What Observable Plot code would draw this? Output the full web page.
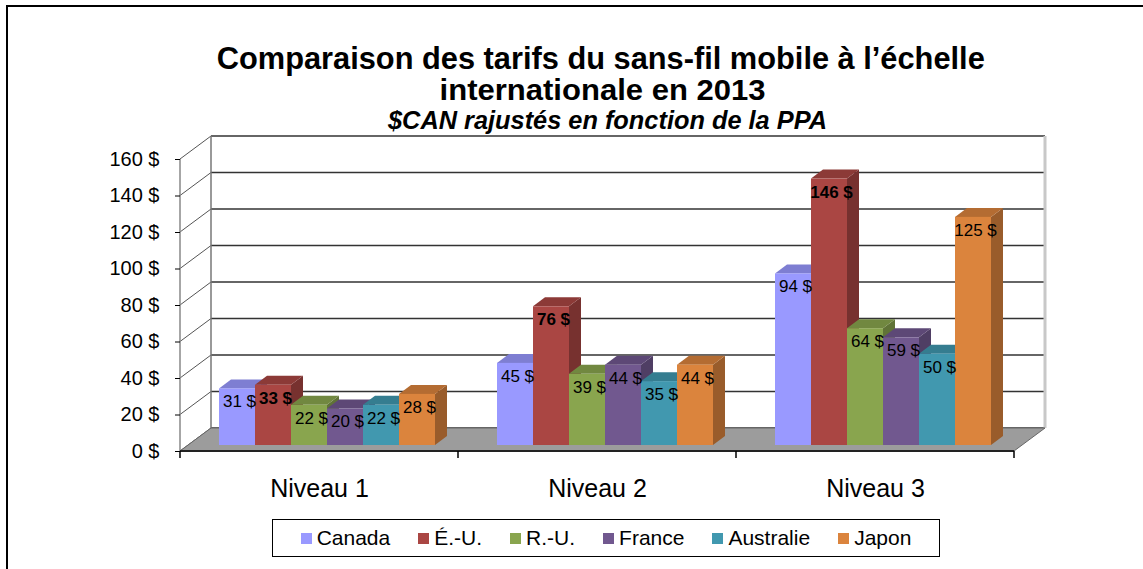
<!DOCTYPE html>
<html>
<head>
<meta charset="utf-8">
<script src="https://cdn.jsdelivr.net/npm/d3@7"></script>
<script src="https://cdn.jsdelivr.net/npm/@observablehq/plot@0.6"></script>
<style>
  body { margin: 0; background: #fff; font-family: "Liberation Sans", Arial, sans-serif; }
  #wrap { position: relative; width: 1143px; height: 569px; overflow: hidden; background: #fff; }
  #frame { position: absolute; left: 6px; top: 5px; width: 1300px; height: 700px; border-left: 2px solid #000; border-top: 2px solid #000; }
  .t { position: absolute; width: 1000px; text-align: center; white-space: nowrap; line-height: 1; color: #000; }
  .t span { display: inline-block; transform-origin: center; }
  #t1 { font-size: 31px; font-weight: bold; }
  #t2 { font-size: 30px; font-weight: bold; }
  #t3 { font-size: 25px; font-weight: bold; font-style: italic; }
  #chart { position: absolute; left: 0; top: 130px; }
  #legend { position: absolute; left: 272px; top: 519px; width: 666px; height: 36px; border: 1.5px solid #000;
            display: flex; align-items: center; justify-content: center; gap: 28px; font-size: 21px; }
  .item { display: flex; align-items: center; white-space: nowrap; }
  .sw { width: 11px; height: 11px; margin-right: 5px; }
</style>
</head>
<body>
<div id="wrap">
  <div id="frame"></div>
  <div class="t" id="t1"><span>Comparaison des tarifs du sans-fil mobile à l’échelle</span></div>
  <div class="t" id="t2"><span>internationale en 2013</span></div>
  <div class="t" id="t3"><span>$CAN rajustés en fonction de la PPA</span></div>
  <div id="chart"></div>
  <div id="legend"></div>
</div>
<script>
// ---------- data ----------
const levels = ["Niveau 1", "Niveau 2", "Niveau 3"];
const countries = ["Canada", "É.-U.", "R.-U.", "France", "Australie", "Japon"];
const colors = ["#9999FF", "#AA4643", "#89A54E", "#71588F", "#4198AF", "#DB843D"];
const canada    = [31, 45, 94];
const usa       = [33, 76, 146];
const uk        = [22, 39, 64];
const france    = [20, 44, 59];
const australia = [22, 35, 50];
const japan     = [28, 44, 125];
const yTicks = [0, 20, 40, 60, 80, 100, 120, 140, 160];

const series = [canada, usa, uk, france, australia, japan];
const data = countries.flatMap((c, i) => levels.map((l, j) => ({level: l, country: c, value: series[i][j]})));

// ---------- titles: fit widths ----------
function fit(id, center, top, target) {
  const el = document.getElementById(id);
  el.style.left = (center - 500) + "px";
  el.style.top = top + "px";
  const sp = el.querySelector("span");
  const w = sp.getBoundingClientRect().width;
  sp.style.transform = `scaleX(${target / w})`;
}
fit("t1", 601, 43, 768);
fit("t2", 603, 75, 326);
fit("t3", 607, 108, 439);

// ---------- 3D extrusion of bars ----------
const DX = 12, DY = 9;
const NS = "http://www.w3.org/2000/svg";
function extrude(index, scales, values, dimensions, context, next) {
  const g = next(index, scales, values, dimensions, context);
  if (!g) return g;
  for (const r of Array.from(g.querySelectorAll("rect"))) {
    const x = +r.getAttribute("x"), y = +r.getAttribute("y");
    const w = +r.getAttribute("width"), h = +r.getAttribute("height");
    const fill = r.getAttribute("fill");
    const side = document.createElementNS(NS, "polygon");
    side.setAttribute("points", `${x + w},${y} ${x + w + DX},${y - DY} ${x + w + DX},${y + h - DY} ${x + w},${y + h}`);
    side.setAttribute("fill", d3.color(fill).darker(1.0).formatHex());
    const top = document.createElementNS(NS, "polygon");
    top.setAttribute("points", `${x},${y} ${x + DX},${y - DY} ${x + w + DX},${y - DY} ${x + w},${y}`);
    top.setAttribute("fill", d3.color(fill).darker(0.55).formatHex());
    r.parentNode.insertBefore(side, r);
    r.parentNode.insertBefore(top, r);
  }
  return g;
}

const font = "Liberation Sans, Arial, sans-serif";
const plot = Plot.plot({
  width: 1143,
  height: 380,
  marginTop: 29,
  marginBottom: 59,
  marginLeft: 180,
  marginRight: 129,
  style: {fontFamily: font, background: "transparent", overflow: "visible", color: "#000"},
  fx: {domain: levels, padding: 0, label: null},
  x: {domain: countries, paddingInner: 0, paddingOuter: 0.79, align: 0.5, axis: null},
  y: {domain: [0, 160], axis: null},
  color: {domain: countries, range: colors},
  marks: [
    Plot.axisY({ticks: yTicks, tickFormat: d => `${d} $`, tickSize: 5, tickPadding: 16, fontSize: 20, label: null, stroke: "#000"}),
    Plot.axisFx({anchor: "bottom", tickSize: 0, tickPadding: 28, fontSize: 25, label: null}),
    Plot.barY(data, {fx: "level", x: "country", y: "value", fill: "country", dx: 8, dy: -6, render: extrude}),
    Plot.text(data, {filter: d => d.country !== "É.-U.", fx: "level", x: "country", y: "value",
      text: d => `${d.value} $`, dx: 10, dy: 7, fontSize: 17, fill: "#000"}),
    Plot.text(data, {filter: d => d.country === "É.-U.", fx: "level", x: "country", y: "value",
      text: d => `${d.value} $`, dx: 10, dy: 7, fontSize: 17, fontWeight: "bold", fill: "#000"})
  ]
});
document.getElementById("chart").appendChild(plot);

// ---------- walls and floor, from the plot's scales ----------
const svg = plot.tagName.toLowerCase() === "svg" ? plot : plot.querySelector("svg");
const ys = plot.scale("y");
const y = d3.scaleLinear(ys.domain, ys.range);
const fxs = plot.scale("fx");
const fx = d3.scaleBand(fxs.domain, fxs.range).paddingInner(fxs.paddingInner ?? 0).paddingOuter(fxs.paddingOuter ?? 0).align(fxs.align ?? 0.5);
const xL = fxs.range[0], xR = fxs.range[1];
const WX = 31, WY = 23; // wall depth
const y0 = y(0), yTop = y(yTicks[yTicks.length - 1]);

const deco = d3.create("svg:g").attr("aria-label", "walls");
// back wall gridlines
deco.selectAll(null).data(yTicks).join("line")
  .attr("x1", xL + WX).attr("x2", xR + WX)
  .attr("y1", d => y(d) - WY).attr("y2", d => y(d) - WY)
  .attr("stroke", "#333").attr("stroke-width", 1.6);
// left side wall diagonals
deco.selectAll(null).data(yTicks).join("line")
  .attr("x1", xL).attr("x2", xL + WX)
  .attr("y1", d => y(d)).attr("y2", d => y(d) - WY)
  .attr("stroke", "#555").attr("stroke-width", 1);
// back verticals
deco.append("line").attr("x1", xL + WX).attr("x2", xL + WX).attr("y1", y0 - WY).attr("y2", yTop - WY)
  .attr("stroke", "#777").attr("stroke-width", 1.5);
deco.append("line").attr("x1", xR + WX).attr("x2", xR + WX).attr("y1", y0 - WY).attr("y2", yTop - WY)
  .attr("stroke", "#c8c8c8").attr("stroke-width", 3);
// front vertical axis line
deco.append("line").attr("x1", xL).attr("x2", xL).attr("y1", y0).attr("y2", yTop)
  .attr("stroke", "#888").attr("stroke-width", 1.5);
// floor
deco.append("polygon")
  .attr("points", `${xL},${y0} ${xR},${y0} ${xR + WX},${y0 - WY} ${xL + WX},${y0 - WY}`)
  .attr("fill", "#9c9c9c").attr("stroke", "#666").attr("stroke-width", 1);
deco.append("line").attr("x1", xL).attr("x2", xR).attr("y1", y0).attr("y2", y0)
  .attr("stroke", "#222").attr("stroke-width", 2);
// category boundary ticks
deco.selectAll(null).data([...levels.map(l => fx(l)), xR]).join("line")
  .attr("x1", d => d).attr("x2", d => d).attr("y1", y0).attr("y2", y0 + 7)
  .attr("stroke", "#000").attr("stroke-width", 1.5);

const firstMark = Array.from(svg.children).find(n => n.tagName.toLowerCase() !== "style");
svg.insertBefore(deco.node(), firstMark);

// ---------- legend ----------
const legend = d3.select("#legend");
countries.forEach((c, i) => {
  const it = legend.append("div").attr("class", "item");
  it.append("div").attr("class", "sw").style("background", colors[i]);
  it.append("span").text(c);
});
</script>
</body>
</html>
